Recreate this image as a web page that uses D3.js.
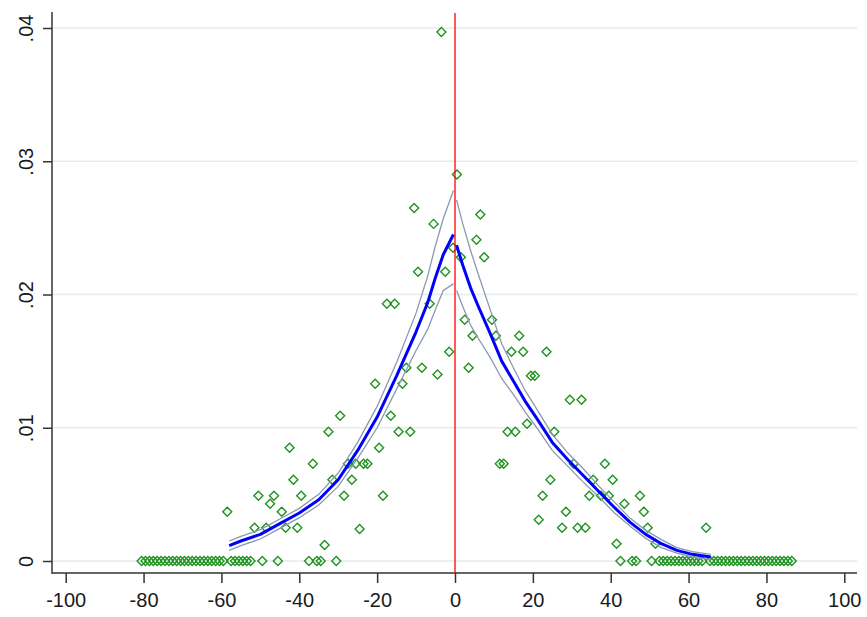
<!DOCTYPE html>
<html lang="en">
<head>
  <meta charset="UTF-8">
  <title>Density at the cutoff</title>
  <style type="text/css">
    body {margin:0; background:#fff;}
    .axis text {font: 20px Arial, "Liberation Sans", sans-serif; fill:#1a1a1a;}
    .axis line {stroke:#333; stroke-width:1.5;}
  </style>
</head>
<body>
  <svg id="chart" width="867" height="617"></svg>

  <script src="https://d3js.org/d3.v7.min.js"></script>
  <script type="text/javascript">
    // bin midpoints and cell heights (density), left of the cutoff
    var leftBins = [-80.5,-79.5,-78.5,-77.5,-76.5,-75.5,-74.5,-73.5,-72.5,-71.5,-70.5,-69.5,-68.5,-67.5,-66.5,-65.5,-64.5,-63.5,-62.5,-61.5,-60.5,-59.5,
                    -58.5,-57.5,-56.5,-55.5,-54.5,-53.5,-52.5,-51.5,-50.5,-49.5,-48.5,-47.5,-46.5,-45.5,-44.5,-43.5,-42.5,-41.5,-40.5,-39.5,
                    -37.5,-36.5,-35.5,-34.5,-33.5,-32.5,-31.5,-30.5,-29.5,-28.5,-27.5,-26.5,-25.5,-24.5,-23.5,-22.5,
                    -20.5,-19.5,-18.5,-17.5,-16.5,-15.5,-14.5,-13.5,-12.5,-11.5,-10.5,-9.5,-8.5,
                    -6.5,-5.5,-4.5,-3.5,-2.5,-1.5,-0.5];
    var leftDensity = [0,0,0,0,0,0,0,0,0,0,0,0,0,0,0,0,0,0,0,0,0,0,
                       .0037,0,0,0,0,0,0,.0025,.0049,0,.0025,.0043,.0049,0,.0037,.0025,.0085,.0061,.0025,.0049,
                       0,.0073,0,0,.0012,.0097,.0061,0,.0109,.0049,.0073,.0061,.0073,.0024,.0073,.0073,
                       .0133,.0085,.0049,.0193,.0109,.0193,.0097,.0133,.0145,.0097,.0265,.0217,.0145,
                       .0193,.0253,.0140,.0397,.0217,.0157,.0235];

    // right of the cutoff
    var rightBins = [0.5,1.5,2.5,3.5,4.5,5.5,6.5,7.5,9.5,10.5,11.5,12.5,13.5,14.5,15.5,16.5,17.5,18.5,19.5,20.5,
                     21.5,22.5,23.5,24.5,25.5,27.5,28.5,29.5,30.5,31.5,32.5,33.5,34.5,35.5,37.5,38.5,39.5,40.5,
                     41.5,42.5,43.5,45.5,46.5,47.5,48.5,49.5,50.5,51.5,
                     52.5,53.5,54.5,55.5,56.5,57.5,58.5,59.5,60.5,61.5,62.5,63.5,64.5,
                     65.5,66.5,67.5,68.5,69.5,70.5,71.5,72.5,73.5,74.5,75.5,76.5,77.5,78.5,79.5,80.5,81.5,82.5,83.5,84.5,85.5,86.5];
    var rightDensity = [.0290,.0228,.0181,.0145,.0169,.0241,.0260,.0228,.0181,.0169,.0073,.0073,.0097,.0157,.0097,.0169,.0157,.0103,.0139,.0139,
                        .0031,.0049,.0157,.0061,.0097,.0025,.0037,.0121,.0073,.0025,.0121,.0025,.0049,.0061,.0049,.0073,.0049,.0061,
                        .0013,0,.0043,0,0,.0049,.0037,.0025,0,.0013,
                        0,0,0,0,0,0,0,0,0,0,0,0,.0025,
                        0,0,0,0,0,0,0,0,0,0,0,0,0,0,0,0,0,0,0,0,0,0];

    // local linear fit with confidence band, left side
    var leftFitX     = [-58,-55,-50,-45,-40,-35,-30,-25,-20,-15,-10,-7,-5,-3,-0.4];
    var leftFit      = [.00115,.0015,.0020,.0028,.0036,.0046,.0061,.0083,.0108,.0139,.0172,.0194,.0213,.0230,.0245];
    var leftUpper    = [.0015,.00185,.00235,.00315,.00395,.0050,.0066,.0089,.0116,.0149,.0186,.0214,.0237,.0257,.0278];
    var leftLower    = [.0008,.00115,.00165,.00245,.00325,.0042,.0056,.0077,.0100,.0129,.0158,.0174,.0189,.0203,.0208];

    // right side
    var rightFitX    = [0.4,2,4,6,9,12,15,18,21,25,29,33,37,41,45,49,53,57,61,65.7];
    var rightFit     = [.0237,.0222,.0205,.0191,.0171,.0150,.0135,.0120,.0107,.0089,.0076,.0064,.0052,.0040,.0029,.0020,.0013,.0008,.0005,.0003];
    var rightUpper   = [.0271,.0253,.0233,.0215,.0189,.0163,.0145,.0128,.0114,.0095,.0081,.0069,.0056,.0044,.0032,.0023,.0016,.0010,.0007,.0005];
    var rightLower   = [.0203,.0191,.0177,.0167,.0153,.0137,.0125,.0112,.0100,.0083,.0071,.0059,.0048,.0036,.0026,.0017,.0010,.0006,.0003,.0001];

    var xTicks = [-100,-80,-60,-40,-20,0,20,40,60,80,100];
    var yTicks = [0,.01,.02,.03,.04];
    var yTickLabels = ["0",".01",".02",".03",".04"];
    var cutoff = 0;

    var svg = d3.select("#chart");
    var frame = {left:52, right:857, top:12, bottom:573};

    var x = d3.scaleLinear().domain([-100,100]).range([65.7,844.3]),
        y = d3.scaleLinear().domain([0,.04]).range([561,28]);

    // gridlines
    svg.append("g")
      .selectAll("line")
      .data(yTicks)
      .enter().append("line")
        .attr("x1", frame.left+1)
        .attr("x2", frame.right)
        .attr("y1", d => y(d))
        .attr("y2", d => y(d))
        .style("stroke","#e4ecee")
        .style("stroke-width",1.3);

    // y axis
    var gy = svg.append("g")
      .attr("class","axis")
      .attr("transform",`translate(${frame.left},0)`)
      .call(d3.axisLeft(y).tickValues(yTicks).tickSize(9).tickFormat((d,i) => yTickLabels[i]));
    gy.select(".domain").remove();
    gy.selectAll("text")
      .attr("x",0).attr("dy",0)
      .attr("transform","translate(-19,0) rotate(-90)")
      .style("text-anchor","middle");

    // x axis
    var gx = svg.append("g")
      .attr("class","axis")
      .attr("transform",`translate(0,${frame.bottom})`)
      .call(d3.axisBottom(x).tickValues(xTicks).tickSize(10).tickPadding(10).tickFormat(d3.format("d")));
    gx.select(".domain").remove();
    gx.selectAll("text").text(d => d < 0 ? "-" + Math.abs(d) : d);

    // axis lines
    svg.append("line")
      .attr("x1",frame.left).attr("x2",frame.left)
      .attr("y1",frame.top).attr("y2",frame.bottom+0.75)
      .style("stroke","#333").style("stroke-width",1.5);
    svg.append("line")
      .attr("x1",frame.left).attr("x2",frame.right)
      .attr("y1",frame.bottom).attr("y2",frame.bottom)
      .style("stroke","#333").style("stroke-width",1.5);

    // histogram cells as hollow diamonds
    var cells = leftBins.map((b,i) => ({bin:b, dens:leftDensity[i]}))
      .concat(rightBins.map((b,i) => ({bin:b, dens:rightDensity[i]})));

    svg.append("g")
      .selectAll("path")
      .data(cells)
      .enter().append("path")
        .attr("transform", d => `translate(${x(d.bin)},${y(d.dens)})`)
        .attr("d","M0,-4.5L4.5,0L0,4.5L-4.5,0Z")
        .style("fill","none")
        .style("stroke","#1f931f")
        .style("stroke-width",1.4);

    // fitted density and CI
    function drawSide(xs, fit, lo, hi) {
      var line = d3.line().x(d => x(d[0])).y(d => y(d[1]));
      [lo, hi].forEach(function(band) {
        svg.append("path")
          .datum(xs.map((v,i) => [v, band[i]]))
          .attr("d", line)
          .style("fill","none")
          .style("stroke","#8a99b2")
          .style("stroke-width",1.3);
      });
      svg.append("path")
        .datum(xs.map((v,i) => [v, fit[i]]))
        .attr("d", line)
        .style("fill","none")
        .style("stroke","#0000ff")
        .style("stroke-width",3)
        .style("stroke-linejoin","round");
    }
    drawSide(leftFitX, leftFit, leftLower, leftUpper);
    drawSide(rightFitX, rightFit, rightLower, rightUpper);

    // cutoff
    svg.append("line")
      .attr("x1",x(cutoff)).attr("x2",x(cutoff))
      .attr("y1",frame.top+1).attr("y2",frame.bottom)
      .style("stroke","#ff0000")
      .style("stroke-width",1.3);
  </script>
</body>
</html>
